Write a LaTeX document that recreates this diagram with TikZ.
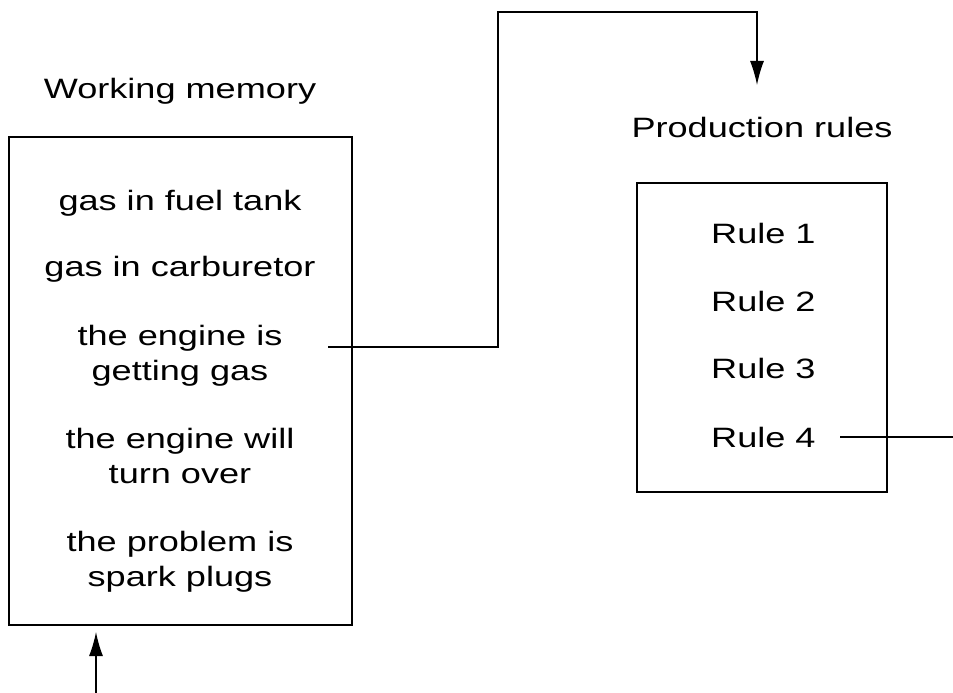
\documentclass[tikz,border=0pt]{standalone}
\usepackage{fontspec}
\setmainfont{Liberation Sans}
\newfontfamily\widesans[FakeStretch=1.29]{Liberation Sans}
\usetikzlibrary{arrows.meta}
\tikzset{
  box/.style={draw=black, line width=1.6pt},
  txt/.style={anchor=base, inner sep=0pt, font=\widesans\fontsize{28}{30}\selectfont},
  conn/.style={draw=black, line width=1.3pt},
  arr/.style={conn, -{Latex[length=24pt,width=14pt]}}
}
\begin{document}
\begin{tikzpicture}[x=1pt,y=-1pt]
\useasboundingbox (0,0) rectangle (953,693);
% labels
\node[txt] (wmlabel) at (180,99) {Working memory};
\node[txt] (prlabel) at (762,137) {Production rules};
% boxes
\draw[box] (9,137) rectangle (352,625);
\coordinate (wmbot) at (96,632);
\draw[box] (637,183) rectangle (887,492);
% working memory contents
\node[txt] (f1) at (180,210) {gas in fuel tank};
\node[txt] (f2) at (180,276) {gas in carburetor};
\node[txt] (f3a) at (180,345) {the engine is};
\node[txt] (f3b) at (180,380) {getting gas};
\node[txt] (f4a) at (180,448) {the engine will};
\node[txt] (f4b) at (180,483) {turn over};
\node[txt] (f5a) at (180,551) {the problem is};
\node[txt] (f5b) at (180,586) {spark plugs};
% rules
\node[txt, anchor=base west] (r1) at (711,243) {Rule 1};
\node[txt, anchor=base west] (r2) at (711,311) {Rule 2};
\node[txt, anchor=base west] (r3) at (711,378) {Rule 3};
\node[txt, anchor=base west] (r4) at (711,447) {Rule 4};
% connectors
\coordinate (c1) at (328,347);
\coordinate (c2) at (498,347);
\coordinate (c3) at (498,12);
\coordinate (c4) at (757,12);
\coordinate (c5) at (757,85);
\draw[arr] (c1) -- (c2) -- (c3) -- (c4) -- (c5);
\coordinate (r4s) at (840,437);
\coordinate (r4e) at (953,437);
\draw[conn] (r4s) -- (r4e);
\coordinate (bstart) at (96,693);
\draw[arr] (bstart) -- (wmbot);
\end{tikzpicture}
\end{document}
